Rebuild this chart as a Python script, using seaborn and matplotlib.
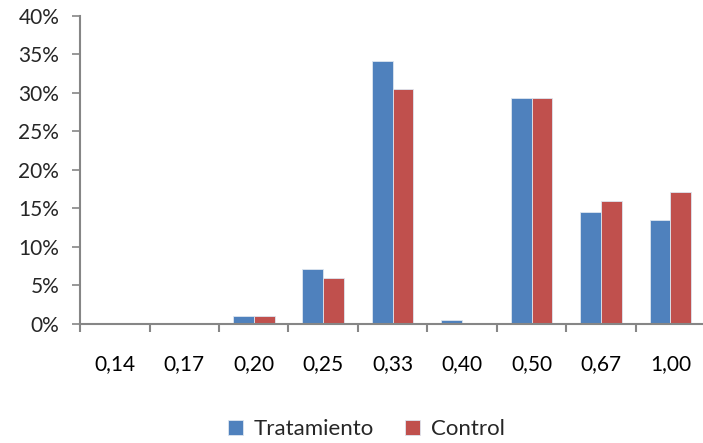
import matplotlib
matplotlib.use('Agg')
import matplotlib.pyplot as plt
import seaborn as sns
import pandas as pd
import numpy as np
from matplotlib.ticker import FuncFormatter, FixedLocator

categories = ['0,14', '0,17', '0,20', '0,25', '0,33', '0,40', '0,50', '0,67', '1,00']
tratamiento = [0.0, 0.0, 1.0, 7.1, 34.2, 0.5, 29.3, 14.5, 13.5]
control = [0.0, 0.0, 1.0, 5.9, 30.5, 0.0, 29.3, 15.9, 17.1]
series_names = ['Tratamiento', 'Control']
colors = ['#4F81BD', '#C0504D']

df = pd.DataFrame({
    'cat': categories * 2,
    'value': tratamiento + control,
    'serie': [series_names[0]] * len(categories) + [series_names[1]] * len(categories),
})

sns.set_style('white')
plt.rcParams['font.family'] = ['Lato', 'DejaVu Sans']

fig = plt.figure(figsize=(7.03, 4.43), dpi=100)
ax = fig.add_axes([0.114, 0.269, 0.889, 0.695])

sns.barplot(data=df, x='cat', y='value', hue='serie', order=categories,
            hue_order=series_names, palette=colors, saturation=1, width=0.6,
            edgecolor='#dde6f0', linewidth=0.6, ax=ax)

ax.set_ylim(0, 40)
ax.set_xlim(-0.5, len(categories) - 0.5)
ax.set_yticks(np.arange(0, 41, 5))
ax.yaxis.set_major_formatter(FuncFormatter(lambda v, p: f'{int(v)}%'))
ax.set_xlabel('')
ax.set_ylabel('')

# category boundary ticks on x axis
ax.xaxis.set_minor_locator(FixedLocator(np.arange(-0.5, len(categories), 1)))
ax.tick_params(axis='x', which='major', length=0, pad=22, labelsize=15, colors='black')
ax.tick_params(axis='x', which='minor', length=5.5, width=1.5, color='#868686', direction='out', bottom=True)
ax.tick_params(axis='y', length=6, width=1.2, color='#868686', direction='out', left=True, labelsize=15, pad=9)

for side in ['top', 'right']:
    ax.spines[side].set_visible(False)
for side in ['left', 'bottom']:
    ax.spines[side].set_color('#868686')
    ax.spines[side].set_linewidth(1.5)

ax.legend(loc='upper center', bbox_to_anchor=(0.458, -0.26), ncol=2, frameon=False,
          fontsize=16, handlelength=0.65, handleheight=0.65, columnspacing=1.4,
          handletextpad=0.5, borderpad=0.2)

fig.savefig('out.png', dpi=100)
